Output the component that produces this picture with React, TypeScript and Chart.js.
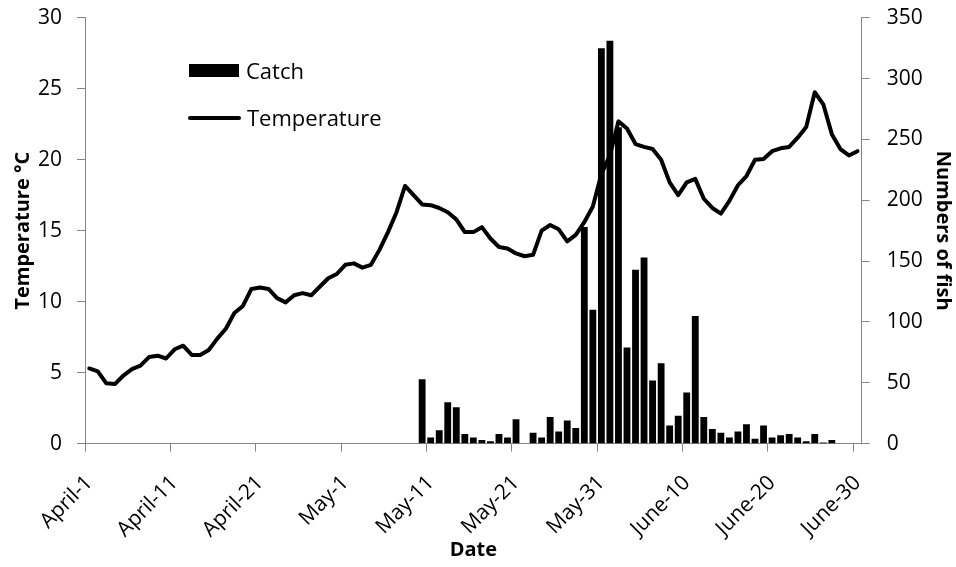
import React, { useEffect, useRef } from "react";
import { Chart, registerables } from "chart.js";

Chart.register(...registerables);

// ---- data ----
const months: [string, number][] = [
  ["April", 30],
  ["May", 31],
  ["June", 30],
];
const categories: string[] = months.flatMap(([m, n]) =>
  Array.from({ length: n }, (_, d) => `${m}-${d + 1}`)
);

const tickLabels: string[] = [
  "April-1",
  "April-11",
  "April-21",
  "May-1",
  "May-11",
  "May-21",
  "May-31",
  "June-10",
  "June-20",
  "June-30",
];

// Temperature (°C), April 1 .. June 30
const temperature: number[] = [
  5.3, 5.1, 4.25, 4.2, 4.8, 5.25, 5.5, 6.1, 6.2, 6.0,
  6.65, 6.9, 6.25, 6.25, 6.6, 7.4, 8.1, 9.2, 9.7, 10.9,
  11.0, 10.9, 10.25, 9.95, 10.45, 10.6, 10.45, 11.05, 11.65, 11.95,
  12.6, 12.7, 12.4, 12.6, 13.65, 14.9, 16.3, 18.15, 17.5, 16.85,
  16.8, 16.6, 16.3, 15.8, 14.9, 14.9, 15.25, 14.45, 13.85, 13.75,
  13.4, 13.2, 13.3, 15.0, 15.4, 15.1, 14.25, 14.7, 15.6, 16.7,
  19.0, 20.3, 22.7, 22.2, 21.1, 20.9, 20.75, 20.0, 18.4, 17.5,
  18.4, 18.65, 17.25, 16.6, 16.2, 17.1, 18.2, 18.85, 20.0, 20.05,
  20.6, 20.8, 20.9, 21.55, 22.3, 24.75, 23.9, 21.8, 20.75, 20.3,
  20.6,
];

// Catch (numbers of fish), April 1 .. June 30
const catchFish: number[] = [
  0, 0, 0, 0, 0, 0, 0, 0, 0, 0,
  0, 0, 0, 0, 0, 0, 0, 0, 0, 0,
  0, 0, 0, 0, 0, 0, 0, 0, 0, 0,
  0, 0, 0, 0, 0, 0, 0, 0, 0, 53,
  5, 11, 34, 30, 8, 5, 3, 2, 8, 5,
  20, 0, 9, 5, 22, 10, 19, 13, 178, 110,
  325, 331, 260, 79, 143, 153, 52, 66, 15, 23,
  42, 105, 22, 12, 9, 5, 10, 16, 4, 15,
  5, 7, 8, 5, 2, 8, 1, 3, 0, 0,
  0,
];

const FONT = "'Open Sans', 'DejaVu Sans', sans-serif";
const AXIS_GREY = "#868686";

const legendPlugin = {
  id: "insideLegend",
  afterDraw(chart: any) {
    const ctx = chart.ctx as CanvasRenderingContext2D;
    ctx.save();
    ctx.fillStyle = "#000";
    ctx.fillRect(189, 64, 50, 13);
    ctx.strokeStyle = "#000";
    ctx.lineWidth = 4;
    ctx.lineCap = "round";
    ctx.beginPath();
    ctx.moveTo(190, 118);
    ctx.lineTo(239, 118);
    ctx.stroke();
    ctx.font = `22px ${FONT}`;
    ctx.textBaseline = "alphabetic";
    ctx.textAlign = "left";
    ctx.fillText(chart.data.datasets[0].label, 246, 78.5);
    ctx.fillText(chart.data.datasets[1].label, 247, 126);
    ctx.restore();
  },
};

export default function App() {
  const ref = useRef<HTMLCanvasElement | null>(null);

  useEffect(() => {
    if (!ref.current) return;
    const chart = new Chart(ref.current, {
      type: "bar",
      data: {
        labels: categories,
        datasets: [
          {
            type: "bar",
            label: "Catch",
            data: catchFish,
            yAxisID: "y1",
            backgroundColor: "#000",
            borderWidth: 0,
            barPercentage: 0.8,
            categoryPercentage: 1,
            order: 0,
          } as any,
          {
            type: "line",
            label: "Temperature",
            data: temperature,
            yAxisID: "y",
            borderColor: "#000",
            backgroundColor: "#000",
            borderWidth: 4,
            pointRadius: 0,
            tension: 0,
            borderJoinStyle: "round",
            borderCapStyle: "round",
            order: 1,
          } as any,
        ],
      },
      options: {
        responsive: false,
        animation: false,
        devicePixelRatio: 1,
        layout: { padding: { top: 17.7, left: 0, right: 0, bottom: 0 } },
        plugins: {
          legend: { display: false },
          tooltip: { enabled: false },
        },
        scales: {
          x: {
            type: "category",
            offset: true,
            grid: {
              offset: true,
              drawOnChartArea: false,
              drawTicks: true,
              tickLength: 8,
              tickColor: (c: any) =>
                typeof c.index === "number" && c.index % 10 === 0
                  ? AXIS_GREY
                  : "rgba(0,0,0,0)",
            },
            border: { color: AXIS_GREY, width: 1 },
            ticks: {
              autoSkip: false,
              minRotation: 45,
              maxRotation: 45,
              padding: 19,
              color: "#000",
              font: { family: FONT, size: 21 },
              callback: (_v: any, i: number) =>
                i % 10 === 0 ? tickLabels[i / 10] ?? "" : "",
            },
            title: {
              display: true,
              text: "Date",
              color: "#000",
              font: { family: FONT, size: 20, weight: "bold" },
              padding: { top: 0, bottom: 5 },
            },
            afterFit: (s: any) => {
              s.height = 123.3;
              s.paddingLeft = 0;
              s.paddingRight = 0;
            },
          } as any,
          y: {
            position: "left",
            min: 0,
            max: 30,
            grid: {
              drawOnChartArea: false,
              tickLength: 8,
              tickColor: AXIS_GREY,
            },
            border: { color: AXIS_GREY, width: 1 },
            ticks: {
              stepSize: 5,
              padding: 15,
              color: "#000",
              font: { family: FONT, size: 21 },
            },
            title: {
              display: true,
              text: "Temperature °C",
              color: "#000",
              font: { family: FONT, size: 20, weight: "bold" },
              padding: { top: 11, bottom: 0 },
            },
            afterFit: (s: any) => {
              s.width = 85;
              s.paddingTop = 0;
              s.paddingBottom = 0;
            },
          } as any,
          y1: {
            position: "right",
            min: 0,
            max: 350,
            grid: {
              drawOnChartArea: false,
              tickLength: 8,
              tickColor: AXIS_GREY,
            },
            border: { color: AXIS_GREY, width: 1 },
            ticks: {
              stepSize: 50,
              padding: 17,
              color: "#000",
              font: { family: FONT, size: 21 },
            },
            title: {
              display: true,
              text: "Numbers of fish",
              color: "#000",
              font: { family: FONT, size: 20, weight: "bold" },
              padding: { top: 1, bottom: 0 },
            },
            afterFit: (s: any) => {
              s.width = 94.3;
              s.paddingTop = 0;
              s.paddingBottom = 0;
            },
          } as any,
        },
      },
      plugins: [legendPlugin],
    });
    return () => chart.destroy();
  }, []);

  return (
    <div
      style={{
        position: "fixed",
        left: 0,
        top: 0,
        width: 956,
        height: 567,
        background: "#fff",
      }}
    >
      <canvas
        ref={ref}
        width={956}
        height={567}
        style={{ width: 956, height: 567, display: "block" }}
      />
    </div>
  );
}
